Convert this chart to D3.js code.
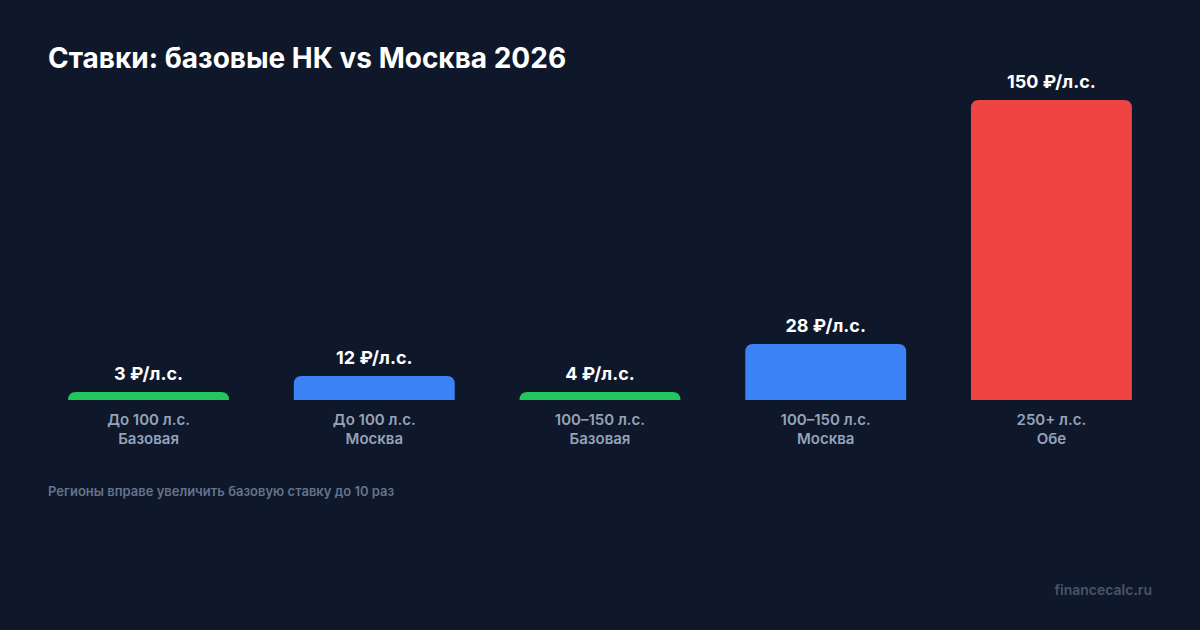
<!DOCTYPE html>
<html lang="ru">
<head>
<meta charset="UTF-8">
<script src="https://d3js.org/d3.v7.min.js"></script>
<style>
  html, body { margin: 0; padding: 0; background: #0f172a; }
  svg { display: block; font-family: Inter, "Noto Sans", sans-serif; }
</style>
</head>
<body>
<script>
const categories = ["До 100 л.с.|Базовая", "До 100 л.с.|Москва", "100–150 л.с.|Базовая", "100–150 л.с.|Москва", "250+ л.с.|Обе"];
const values = [3, 12, 4, 28, 150];
const colors = ["#22c55e", "#3b82f6", "#22c55e", "#3b82f6", "#ef4444"];
const valueLabels = ["3 ₽/л.с.", "12 ₽/л.с.", "4 ₽/л.с.", "28 ₽/л.с.", "150 ₽/л.с."];

const width = 1200, height = 630;
const baseY = 400, topY = 100;

const svg = d3.select("body").append("svg")
    .attr("width", width)
    .attr("height", height);

svg.append("rect").attr("width", width).attr("height", height).attr("fill", "#0f172a");

svg.append("text")
    .attr("x", 48).attr("y", 68)
    .attr("fill", "#ffffff")
    .attr("font-size", 28).attr("font-weight", 700)
    .text("Ставки: базовые НК vs Москва 2026");

const x = d3.scaleBand()
    .domain(categories)
    .range([48, 1152])
    .paddingInner(0.287)
    .paddingOuter(0.089);

const y = d3.scaleLinear()
    .domain([0, d3.max(values)])
    .range([baseY, topY]);

// bar with rounded top corners
function barPath(x0, y0, w, h, r) {
    r = Math.min(r, h, w / 2);
    return `M${x0},${y0 + h}V${y0 + r}Q${x0},${y0} ${x0 + r},${y0}H${x0 + w - r}Q${x0 + w},${y0} ${x0 + w},${y0 + r}V${y0 + h}Z`;
}

const minH = 8;
const barTop = (v) => Math.min(y(v), baseY - minH);

const g = svg.append("g");

g.selectAll("path.bar")
    .data(values)
    .enter().append("path")
    .attr("class", "bar")
    .attr("fill", (d, i) => colors[i])
    .attr("d", (d, i) => barPath(x(categories[i]), barTop(d), x.bandwidth(), baseY - barTop(d), 8));

g.selectAll("text.val")
    .data(values)
    .enter().append("text")
    .attr("class", "val")
    .attr("x", (d, i) => x(categories[i]) + x.bandwidth() / 2)
    .attr("y", d => barTop(d) - 12)
    .attr("text-anchor", "middle")
    .attr("fill", "#ffffff")
    .attr("font-size", 18).attr("font-weight", 700)
    .text((d, i) => valueLabels[i]);

const cat = g.selectAll("text.cat")
    .data(categories)
    .enter().append("text")
    .attr("class", "cat")
    .attr("x", d => x(d) + x.bandwidth() / 2)
    .attr("y", baseY + 25)
    .attr("text-anchor", "middle")
    .attr("fill", "#94a3b8")
    .attr("font-size", 15).attr("font-weight", 600);

cat.each(function(d) {
    const parts = d.split("|");
    const t = d3.select(this);
    t.append("tspan").attr("x", x(d) + x.bandwidth() / 2).text(parts[0]);
    t.append("tspan").attr("x", x(d) + x.bandwidth() / 2).attr("dy", 19).text(parts[1]);
});

svg.append("text")
    .attr("x", 48).attr("y", 496)
    .attr("fill", "#64748b")
    .attr("font-size", 13).attr("font-weight", 600)
    .text("Регионы вправе увеличить базовую ставку до 10 раз");

svg.append("text")
    .attr("x", 1152).attr("y", 595)
    .attr("text-anchor", "end")
    .attr("fill", "#475569")
    .attr("font-size", 14).attr("font-weight", 600)
    .text("financecalc.ru");
</script>
</body>
</html>
